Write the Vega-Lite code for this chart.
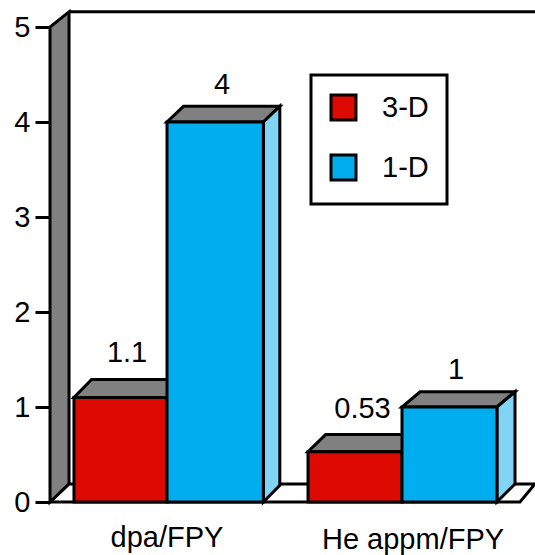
{
"$schema":"https://vega.github.io/schema/vega-lite/v6.json",
"width":485,"height":475,
"padding":{"left":50,"top":27,"right":0,"bottom":53},
"autosize":"none",
"background":"white",
"config":{"view":{"stroke":null},"font":"Liberation Sans","legend":{"strokeWidth":3}},
"datasets":{
"bars":[
{"group":"dpa/FPY","series":"3-D","value":1.1,"start":0.604,"end":1.0},
{"group":"dpa/FPY","series":"1-D","value":4,"start":1.0,"end":1.41},
{"group":"He appm/FPY","series":"3-D","value":0.53,"start":1.6,"end":2.0},
{"group":"He appm/FPY","series":"1-D","value":1,"start":2.0,"end":2.404}],
"faces":[
{"face":"floor","id":"f","x":0.502,"lo":0,"hi":0},
{"face":"floor","id":"f","x":0.583,"lo":0,"hi":0.19},
{"face":"floor","id":"f","x":2.502,"lo":0,"hi":0.19},
{"face":"floor","id":"f","x":2.566,"lo":0.19,"hi":0.19},
{"face":"wall","id":"w","x":0.502,"lo":0,"hi":5},
{"face":"wall","id":"w","x":0.583,"lo":0.19,"hi":5.16},
{"face":"top","id":"a","x":0.604,"lo":1.1,"hi":1.1},
{"face":"top","id":"a","x":0.679,"lo":1.1,"hi":1.29},
{"face":"top","id":"a","x":1.0,"lo":1.1,"hi":1.29},
{"face":"top","id":"a","x":1.075,"lo":1.29,"hi":1.29},
{"face":"top","id":"b","x":1.0,"lo":4,"hi":4},
{"face":"top","id":"b","x":1.07,"lo":4,"hi":4.165},
{"face":"top","id":"b","x":1.41,"lo":4,"hi":4.165},
{"face":"top","id":"b","x":1.48,"lo":4.165,"hi":4.165},
{"face":"top","id":"c","x":1.6,"lo":0.53,"hi":0.53},
{"face":"top","id":"c","x":1.675,"lo":0.53,"hi":0.71},
{"face":"top","id":"c","x":2.0,"lo":0.53,"hi":0.71},
{"face":"top","id":"c","x":2.08,"lo":0.71,"hi":0.71},
{"face":"top","id":"d","x":2.0,"lo":1,"hi":1},
{"face":"top","id":"d","x":2.077,"lo":1,"hi":1.16},
{"face":"top","id":"d","x":2.404,"lo":1,"hi":1.16},
{"face":"top","id":"d","x":2.481,"lo":1.16,"hi":1.16},
{"face":"side","id":"b","x":1.41,"lo":0,"hi":4},
{"face":"side","id":"b","x":1.48,"lo":0.175,"hi":4.165},
{"face":"side","id":"d","x":2.404,"lo":0,"hi":1},
{"face":"side","id":"d","x":2.481,"lo":0.19,"hi":1.16}],
"texts":[
{"text":"dpa/FPY","x":1.0,"y":-0.47},
{"text":"He appm/FPY","x":2.047,"y":-0.49},
{"text":"1.1","x":0.83,"y":1.47},
{"text":"4","x":1.234,"y":4.30},
{"text":"0.53","x":1.832,"y":0.88},
{"text":"1","x":2.23,"y":1.29}]
},
"data":{"name":"bars"},
"layer":[
{"data":{"name":"faces"},"transform":[{"filter":"datum.face=='floor'"}],
 "mark":{"type":"area","fill":"white","stroke":"black","strokeWidth":3,"strokeJoin":"miter"},
 "encoding":{"detail":{"field":"id"},
  "x":{"field":"x","type":"quantitative","scale":{"domain":[0.502,2.566],"nice":false},"axis":null},
  "y":{"field":"lo","type":"quantitative","scale":{"domain":[0,5],"nice":false},"stack":null,
   "axis":{"values":[0,1,2,3,4,5],"title":null,"grid":false,"domain":false,"tickColor":"black","tickWidth":3,"tickSize":15,"labelFontSize":29,"labelColor":"black","labelPadding":5,"labelFont":"Liberation Sans","format":"d"}},
  "y2":{"field":"hi"}}},
{"data":{"name":"faces"},"transform":[{"filter":"datum.face=='wall'"}],
 "mark":{"type":"area","fill":"#808080","stroke":"black","strokeWidth":3},
 "encoding":{"detail":{"field":"id"},"x":{"field":"x","type":"quantitative"},"y":{"field":"lo","type":"quantitative","stack":null},"y2":{"field":"hi"}}},
{"data":{"values":[{"x":0.583,"x2":2.566,"y":5.16}]},
 "mark":{"type":"rule","color":"black","strokeWidth":3},
 "encoding":{"x":{"field":"x","type":"quantitative"},"x2":{"field":"x2"},"y":{"field":"y","type":"quantitative"}}},
{"data":{"name":"faces"},"transform":[{"filter":"datum.face=='top'"}],
 "mark":{"type":"area","fill":"#808080","stroke":"black","strokeWidth":3},
 "encoding":{"detail":{"field":"id"},"x":{"field":"x","type":"quantitative"},"y":{"field":"lo","type":"quantitative","stack":null},"y2":{"field":"hi"}}},
{"data":{"name":"faces"},"transform":[{"filter":"datum.face=='side'"}],
 "mark":{"type":"area","fill":"#80d4f6","stroke":"black","strokeWidth":3},
 "encoding":{"detail":{"field":"id"},"x":{"field":"x","type":"quantitative"},"y":{"field":"lo","type":"quantitative","stack":null},"y2":{"field":"hi"}}},
{"mark":{"type":"rect","stroke":"black","strokeWidth":3},
 "encoding":{
  "x":{"field":"start","type":"quantitative"},"x2":{"field":"end"},
  "y":{"field":"value","type":"quantitative","stack":null},"y2":{"datum":0},
  "fill":{"field":"series","type":"nominal","scale":{"domain":["3-D","1-D"],"range":["#dd0a04","#00aeef"]},
   "legend":{"title":null,"orient":"none","legendX":261,"legendY":48,"fillColor":"white","strokeColor":"black","padding":18,"symbolType":"square","symbolSize":625,"symbolStrokeColor":"black","symbolStrokeWidth":3,"symbolOpacity":1,"labelFontSize":29,"labelColor":"black","labelFont":"Liberation Sans","labelOffset":24,"rowPadding":23,"labelLimit":200}}}},
{"data":{"name":"texts"},
 "mark":{"type":"text","fontSize":29,"font":"Liberation Sans","color":"black","align":"center","baseline":"alphabetic"},
 "encoding":{"x":{"field":"x","type":"quantitative"},"y":{"field":"y","type":"quantitative"},"text":{"field":"text"}}}
]
}
